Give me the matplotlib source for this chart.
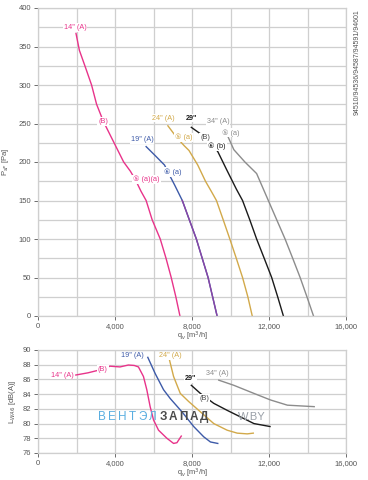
import matplotlib
matplotlib.use("Agg")
import matplotlib.pyplot as plt

plt.rcParams["font.family"] = ["Liberation Sans", "DejaVu Sans"]

# pressure curves: q_v [m3/h], P_sF [Pa]
q14 = [1974, 2150, 2435, 2783, 3043, 3391, 3750, 4150, 4450, 4800, 5060, 5350, 5617, 5930, 6350, 6650, 6920, 7160, 7374]
p14 = [367, 345, 325, 300, 275, 253, 235, 215, 200, 188, 177, 162, 150, 125, 100, 75, 50, 25, 0]
q19 = [5617, 6100, 6574, 6748, 7100, 7496, 7860, 8226, 8530, 8835, 9070, 9304]
p19 = [220, 208, 196, 187, 170, 150, 125, 100, 75, 50, 25, 0]
q24 = [6748, 7200, 7600, 7843, 8300, 8700, 9000, 9270, 9620, 9965, 10300, 10626, 10900, 11130]
p24 = [247, 232, 221, 215, 196, 175, 162, 150, 125, 100, 75, 50, 25, 0]
q29 = [7965, 8700, 9100, 9350, 9800, 10300, 10626, 11000, 11357, 11750, 12139, 12450, 12748]
p29 = [245, 232, 222, 213, 190, 165, 150, 125, 100, 75, 50, 25, 0]
q34 = [9850, 10174, 10748, 11357, 11965, 12400, 12835, 13230, 13617, 13970, 14313]
p34 = [234, 216, 200, 185, 150, 125, 100, 75, 50, 25, 0]

# sound power curves: q_v [m3/h], L_WA6 [dB(A)]
lq14 = [1965, 2600, 3217, 3739, 4261, 4696, 5000, 5217, 5478, 5652, 5826, 6000, 6261, 6696, 7043, 7217, 7443]
lw14 = [86.6, 86.9, 87.3, 87.8, 87.7, 87.96, 87.9, 87.7, 86.4, 84.6, 82.3, 80.5, 79.1, 78.0, 77.3, 77.4, 78.3]
lq19 = [5704, 6087, 6522, 6870, 7478, 8087, 8609, 8957, 9339]
lw19 = [89.0, 86.8, 84.6, 83.4, 81.6, 79.6, 78.2, 77.5, 77.3]
lq24 = [6835, 7043, 7391, 7826, 8435, 9130, 9826, 10348, 10870, 11183]
lw24 = [88.6, 86.4, 84.1, 83.0, 81.6, 80.0, 79.1, 78.7, 78.6, 78.7]
lq29 = [7965, 8435, 9130, 9826, 10522, 11217, 12052]
lw29 = [85.2, 84.1, 82.75, 81.8, 80.9, 80.0, 79.6]
lq34 = [9391, 10174, 11217, 12087, 12957, 13652, 14348]
lw34 = [85.9, 85.2, 84.1, 83.2, 82.5, 82.4, 82.3]

c_pink = "#e8338a"
c_blue = "#3d5aa8"
c_yel = "#d2a94a"
c_blk = "#1a1a1a"
c_gray = "#8c8c8c"
grid_c = "#cfcfcf"
txt_c = "#555555"

fig = plt.figure(figsize=(3.68, 4.8), dpi=100)
ax1 = fig.add_axes([38 / 368, 1 - 316 / 480, 308 / 368, 308 / 480])
ax2 = fig.add_axes([38 / 368, 1 - 453 / 480, 308 / 368, 103 / 480])


def style(ax, ymin, ymax, ymaj, ymin_step):
    ax.set_xlim(0, 16000)
    ax.set_ylim(ymin, ymax)
    ax.set_xticks(range(0, 16001, 4000))
    ax.set_xticks(range(0, 16001, 2000), minor=True)
    ax.set_xticklabels([f"{v:,}" for v in range(0, 16001, 4000)])
    ax.set_yticks(range(ymin, ymax + 1, ymaj))
    ax.set_yticks(range(ymin, ymax + 1, ymin_step), minor=True)
    ax.grid(True, which="both", color=grid_c, lw=0.9)
    ax.set_axisbelow(True)
    for s in ax.spines.values():
        s.set_color(grid_c)
        s.set_linewidth(0.9)
    ax.tick_params(which="major", labelsize=5.5, colors=txt_c, length=3, width=0.6, pad=2)
    ax.tick_params(which="minor", length=0)
    ax.set_xlabel("q$_v$ [m$^3$/h]", fontsize=5.3, color=txt_c, labelpad=0)


style(ax1, 0, 400, 50, 25)
style(ax2, 76, 90, 2, 2)
ax1.set_ylabel("P$_{sF}$ [Pa]", fontsize=5.5, color=txt_c, labelpad=5)
ax2.set_ylabel("L$_{WA6}$ [dB(A)]", fontsize=5.5, color=txt_c, labelpad=3)

lw = 1.0
ax1.plot(q14, p14, color=c_pink, lw=lw)
ax1.plot(q19, p19, color=c_blue, lw=lw)
ax1.plot(q19[5:], p19[5:], color="#8a45a5", lw=lw)
ax1.plot(q24, p24, color=c_yel, lw=lw)
ax1.plot(q29, p29, color=c_blk, lw=lw)
ax1.plot(q34, p34, color=c_gray, lw=lw)

ax2.plot(lq14, lw14, color=c_pink, lw=lw)
ax2.plot(lq19, lw19, color=c_blue, lw=lw)
ax2.plot(lq24, lw24, color=c_yel, lw=lw)
ax2.plot(lq29, lw29, color=c_blk, lw=lw)
ax2.plot(lq34, lw34, color=c_gray, lw=lw)

bb = dict(facecolor="white", edgecolor="none", pad=0.6)
fs = 5.2


def lab(ax, x, y, s, c, ha="center", bold=False):
    ax.text(x, y, s, color=c, fontsize=fs, ha=ha, va="center", bbox=bb,
            fontweight="bold" if bold else "normal", zorder=5)


lab(ax1, 1922, 375, '14" (A)', c_pink)
lab(ax1, 3377, 253, "(B)", c_pink)
lab(ax1, 4950, 177, "⑤ (a)(a)", c_pink, ha="left")
lab(ax1, 5400, 229, '19" (A)', c_blue)
lab(ax1, 6520, 187, "⑥ (a)", c_blue, ha="left")
lab(ax1, 6494, 257, '24" (A)', c_yel)
lab(ax1, 7100, 232, "⑤ (a)", c_yel, ha="left")
lab(ax1, 7948, 257, '29"', c_blk, bold=True)
lab(ax1, 8676, 232, "(B)", "#444444")
lab(ax1, 8850, 220, "⑥ (b)", c_blk, ha="left")
lab(ax1, 9351, 252, '34" (A)', c_gray)
lab(ax1, 9550, 238, "⑤ (a)", c_gray, ha="left")

ax1.text(16600, 330, "94510/94536/94587/94591/94601", rotation=90, fontsize=5,
         color=txt_c, ha="center", va="center", clip_on=False)

lab(ax2, 1259, 86.6, '14" (A)', c_pink)
lab(ax2, 3362, 87.3, "(B)", c_pink)
lab(ax2, 4914, 89.2, '19" (A)', c_blue)
lab(ax2, 6897, 89.2, '24" (A)', c_yel)
lab(ax2, 7931, 86.1, '29"', c_blk, bold=True)
lab(ax2, 8621, 83.4, "(B)", "#444444")
lab(ax2, 9310, 86.8, '34" (A)', c_gray)

# watermark
wm_blue = "ВЕНТЭЛ"
wm_dark = "ЗАПАД"
x0 = 3300
step = 530
for i, ch in enumerate(wm_blue):
    ax2.text(x0 + i * step, 80.95, ch, fontsize=8.5, color="#5aaee0", ha="center", va="center", zorder=6)
for i, ch in enumerate(wm_dark):
    ax2.text(x0 + (len(wm_blue) + i) * step + 20, 80.95, ch, fontsize=8.5, color="#4a4a4a",
             ha="center", va="center", fontweight="bold", zorder=6)
ax2.text(10400, 80.95, "W.BY", fontsize=8, color="#9aa0a8", ha="left", va="center", zorder=6)

fig.savefig("out.png", dpi=100)
